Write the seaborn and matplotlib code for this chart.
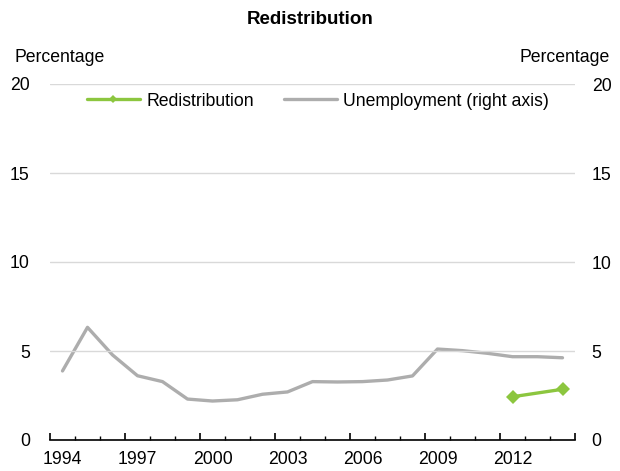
import seaborn as sns
import matplotlib.pyplot as plt
from matplotlib.ticker import FixedLocator, MultipleLocator, NullFormatter
import pandas as pd

# Data
years = list(range(1994, 2015))
unemployment = [3.88, 6.33, 4.78, 3.61, 3.28, 2.30, 2.19, 2.26, 2.57, 2.70, 3.28,
                3.26, 3.28, 3.37, 3.60, 5.11, 5.02, 4.87, 4.68, 4.68, 4.62]
redis_years = [2012, 2014]
redistribution = [2.43, 2.85]
tick_years = [1994, 1997, 2000, 2003, 2006, 2009, 2012]

green = "#8CC63F"
grey = "#ADADAD"

sns.set_style("white")
plt.rcParams["font.family"] = ["Liberation Sans", "DejaVu Sans"]
plt.rcParams["font.size"] = 12.7
plt.rcParams["text.color"] = "black"
plt.rcParams["xtick.color"] = "black"
plt.rcParams["ytick.color"] = "black"
plt.rcParams["xtick.labelcolor"] = "black"
plt.rcParams["ytick.labelcolor"] = "black"

unemp_df = pd.DataFrame({"pos": [y - years[0] for y in years], "value": unemployment})
redis_df = pd.DataFrame({"pos": [y - years[0] for y in redis_years], "value": redistribution})

fig = plt.figure(figsize=(6.2, 4.71), dpi=100)
ax = fig.add_axes([50 / 620, 1 - 440 / 471, 525 / 620, 356 / 471])
ax2 = ax.twinx()

sns.lineplot(data=unemp_df, x="pos", y="value", ax=ax2, color=grey, linewidth=2.4,
             label="Unemployment (right axis)", legend=False)
sns.lineplot(data=redis_df, x="pos", y="value", ax=ax, color=green, linewidth=2.4,
             marker="D", markersize=7, markeredgewidth=0,
             label="Redistribution", legend=False)

for a in (ax, ax2):
    a.set_ylim(0, 20)
    a.set_xlim(-0.5, len(years) - 0.5)
    a.set_yticks([0, 5, 10, 15, 20])
    a.set_xlabel("")
    a.set_ylabel("")
    for s in ["top", "left", "right"]:
        a.spines[s].set_visible(False)
    a.tick_params(axis="y", length=0)

ax.set_zorder(2)
ax.patch.set_visible(False)
ax2.patch.set_visible(False)

ax.grid(axis="y", color="#D9D9D9", linewidth=1)
ax.set_axisbelow(True)
ax.tick_params(axis="y", pad=14.5)
ax2.tick_params(axis="y", pad=12)
ax2.spines["bottom"].set_visible(False)
ax2.tick_params(axis="x", length=0, labelbottom=False)

# tick marks on the slot boundaries: long every three years, short every year
ax.xaxis.set_major_locator(MultipleLocator(3, offset=-0.5))
ax.xaxis.set_major_formatter(NullFormatter())
ax.xaxis.set_minor_locator(MultipleLocator(1, offset=-0.5))
ax.tick_params(axis="x", which="major", direction="in", length=5, width=1.2, bottom=True)
ax.tick_params(axis="x", which="minor", direction="in", length=3, width=1, bottom=True)
ax.spines["bottom"].set_color("black")
ax.spines["bottom"].set_linewidth(1.2)

# category labels sit in the middle of each year slot
sec = ax.secondary_xaxis("bottom")
sec.xaxis.set_major_locator(FixedLocator([y - years[0] for y in tick_years]))
sec.set_xticklabels([str(y) for y in tick_years])
sec.tick_params(axis="x", length=0, pad=8)
sec.spines["bottom"].set_visible(False)

handles = ax.get_lines()[:1] + ax2.get_lines()[:1]
leg = ax.legend(handles, ["Redistribution", "Unemployment (right axis)"], ncol=2,
                loc="center", bbox_to_anchor=(0.51, 0.952), frameon=False,
                handlelength=3.0, columnspacing=1.7, handletextpad=0.35)
for h in leg.legend_handles:
    h.set_markersize(4.5)

fig.text(0.5, 1 - 20 / 471, "Redistribution", ha="center", va="center",
         fontweight="bold", fontsize=13.5)
fig.text(15 / 620, 1 - 58 / 471, "Percentage", ha="left", va="center")
fig.text(610 / 620, 1 - 58 / 471, "Percentage", ha="right", va="center")

fig.savefig("out.png", dpi=100)
